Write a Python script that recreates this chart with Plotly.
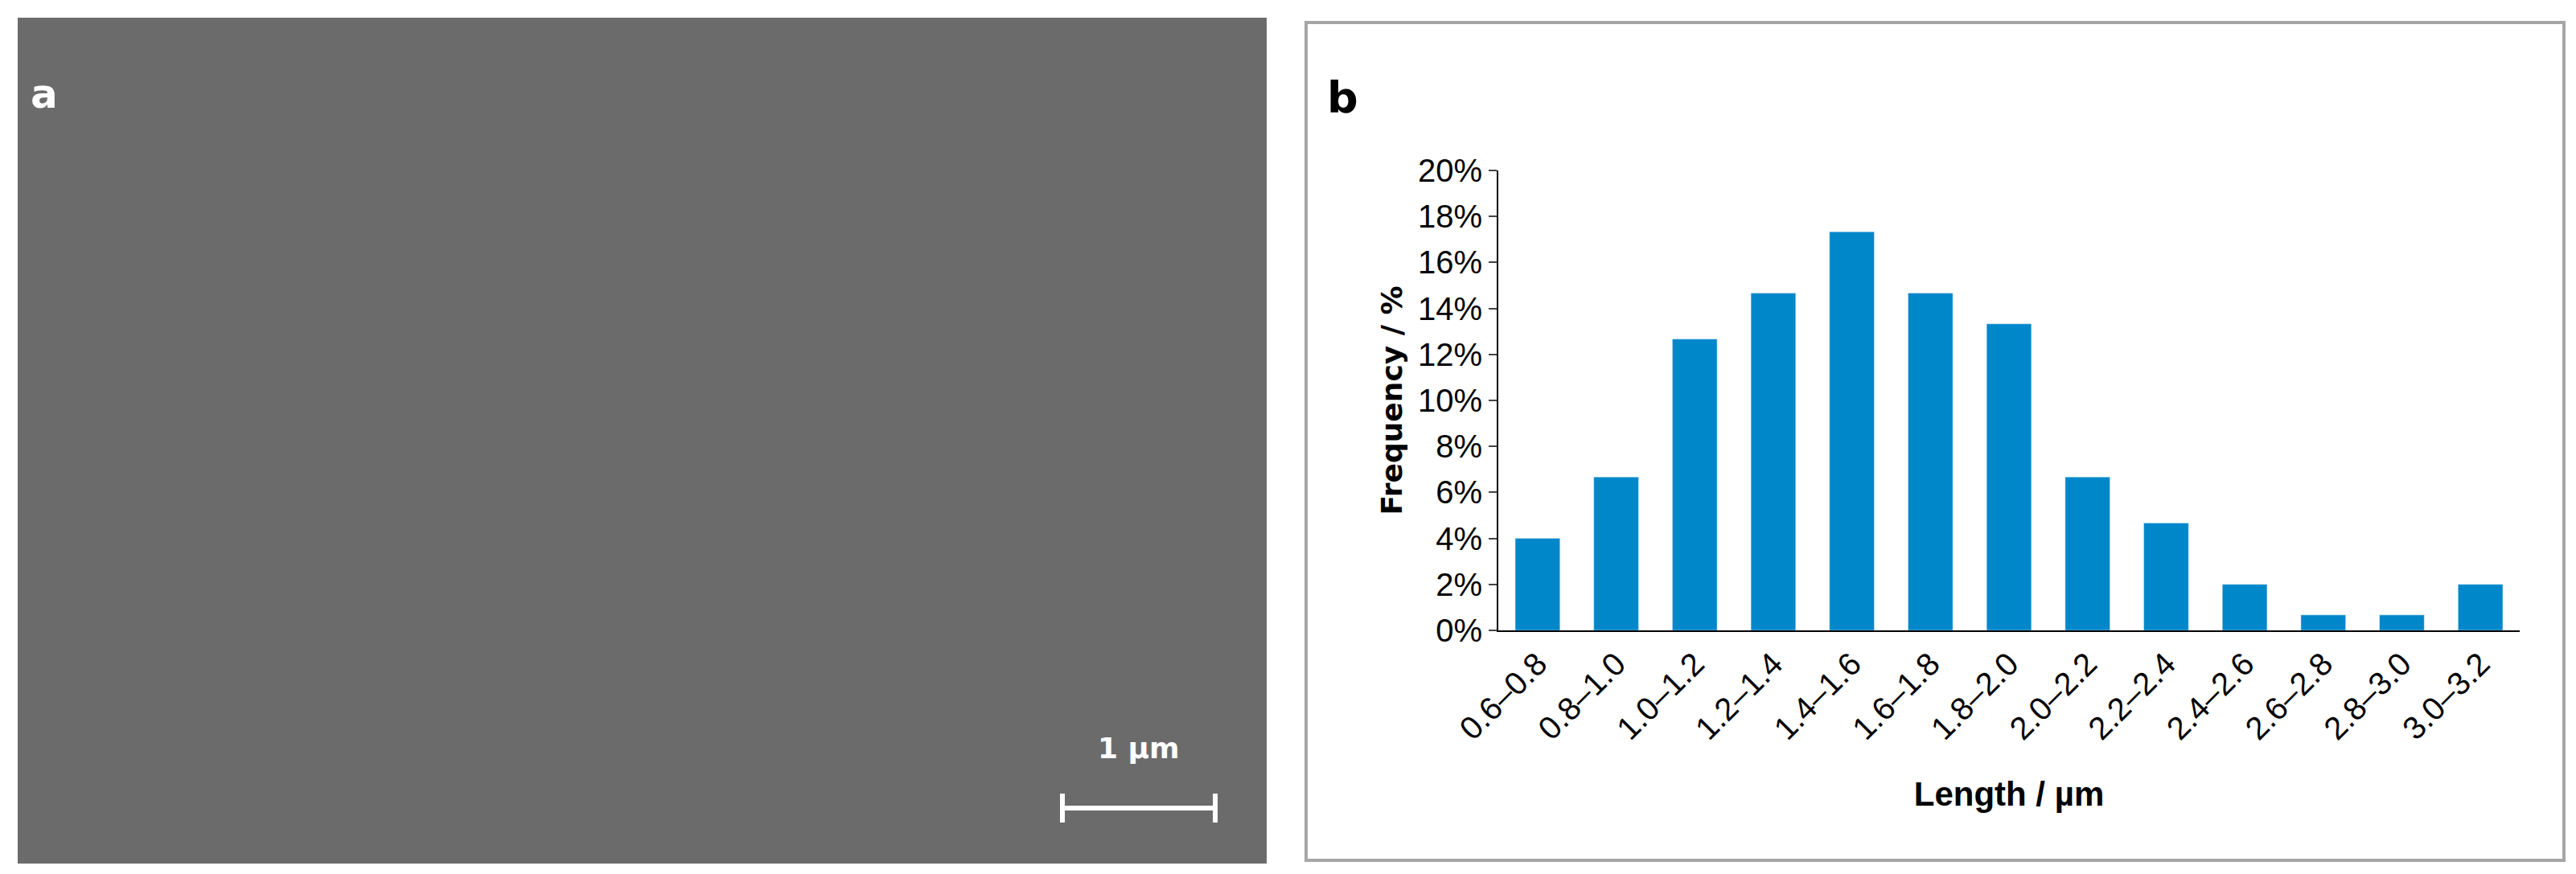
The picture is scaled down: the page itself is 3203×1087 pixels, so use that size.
import plotly.graph_objects as go

# Length bins and frequency (%)
bins = ['0.6–0.8', '0.8–1.0', '1.0–1.2', '1.2–1.4', '1.4–1.6', '1.6–1.8', '1.8–2.0',
        '2.0–2.2', '2.2–2.4', '2.4–2.6', '2.6–2.8', '2.8–3.0', '3.0–3.2']
freq = [4.0, 6.67, 12.67, 14.67, 17.33, 14.67, 13.33, 6.67, 4.67, 2.0, 0.67, 0.67, 2.0]
y_ticks = [0, 2, 4, 6, 8, 10, 12, 14, 16, 18, 20]

W, H = 3203, 1087
narrow = 'Liberation Sans Narrow, Arial Narrow, sans-serif'

fig = go.Figure(go.Bar(x=bins, y=freq, marker_color='#0087CA'))

fig.update_layout(
    width=W, height=H, margin=dict(l=0, r=0, t=0, b=0, autoexpand=False),
    paper_bgcolor='white', plot_bgcolor='white', showlegend=False, bargap=0.43,
    xaxis=dict(domain=[1855 / W, 3125 / W], showline=True, linecolor='black', linewidth=2,
               tickangle=-45, tickfont=dict(family=narrow, size=40, color='black'),
               title=dict(text='<b>Length / µm</b>', font=dict(family=narrow, size=42, color='black'),
                          standoff=45)),
    yaxis=dict(domain=[1 - 776 / H, 1 - 204 / H], range=[0, 20], tickvals=y_ticks,
               ticktext=[f'{v}%' for v in y_ticks], showgrid=False, showline=True,
               linecolor='black', linewidth=2, ticks='outside', ticklen=10, tickwidth=2,
               tickfont=dict(family=narrow, size=40, color='black'),
               title=dict(text='<b>Frequency / %</b>', font=dict(family='DejaVu Sans', size=36, color='black'),
                          standoff=8)),
)

# Panel a: micrograph placeholder, panel b frame
fig.add_shape(type='rect', xref='paper', yref='paper', x0=14 / W, x1=1567 / W, y0=1 - 1066 / H, y1=1 - 14 / H,
              fillcolor='#6b6b6b', line=dict(width=0), layer='below')
fig.add_shape(type='rect', xref='paper', yref='paper', x0=1616 / W, x1=3180 / W, y0=1 - 1062 / H, y1=1 - 20 / H,
              line=dict(color='#a6a6a6', width=4), layer='below')
# scale bar
fig.add_shape(type='line', xref='paper', yref='paper', x0=1313 / W, x1=1503 / W, y0=1 - 997 / H, y1=1 - 997 / H,
              line=dict(color='white', width=6))
for xb in (1313, 1503):
    fig.add_shape(type='line', xref='paper', yref='paper', x0=xb / W, x1=xb / W,
                  y0=1 - 979 / H, y1=1 - 1015 / H, line=dict(color='white', width=6))

fig.add_annotation(x=1408 / W, y=1 - 945 / H, xref='paper', yref='paper', text='<b>1 µm</b>',
                   showarrow=False, font=dict(family='DejaVu Sans', size=36, color='white'))
fig.add_annotation(x=28 / W, y=1 - 78 / H, xref='paper', yref='paper', text='<b>a</b>', xanchor='left',
                   showarrow=False, font=dict(family='DejaVu Sans', size=50, color='white'))
fig.add_annotation(x=1640 / W, y=1 - 80 / H, xref='paper', yref='paper', text='<b>b</b>', xanchor='left',
                   showarrow=False, font=dict(family='DejaVu Sans', size=54, color='black'))

fig.write_html('out.html')
